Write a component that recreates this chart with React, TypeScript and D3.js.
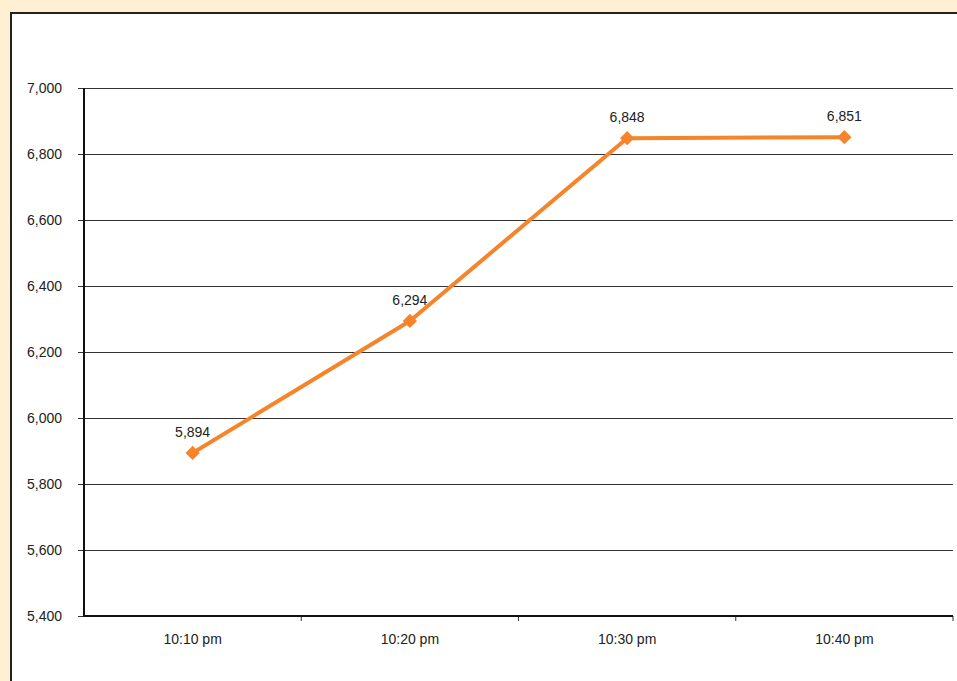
import * as d3 from "d3";
import { useEffect, useRef } from "react";

const CATEGORIES = ["10:10 pm", "10:20 pm", "10:30 pm", "10:40 pm"];
const VALUES = [5894, 6294, 6848, 6851];
const Y_TICKS = [5400, 5600, 5800, 6000, 6200, 6400, 6600, 6800, 7000];

const WIDTH = 957;
const HEIGHT = 681;
const LINE_COLOR = "#F5842A";

const App = () => {
  const svgRef = useRef<SVGSVGElement>(null);

  useEffect(() => {
    if (!svgRef.current) return;
    const svg = d3.select(svgRef.current);
    svg.selectAll("*").remove();

    const left = 84;
    const right = 953;
    const top = 88;
    const bottom = 616;

    svg
      .append("rect")
      .attr("width", WIDTH)
      .attr("height", HEIGHT)
      .attr("fill", "#FFF0D3");

    svg
      .append("rect")
      .attr("x", 11)
      .attr("y", 13)
      .attr("width", WIDTH + 20)
      .attr("height", HEIGHT + 20)
      .attr("fill", "#fff")
      .attr("stroke", "#222")
      .attr("stroke-width", 2);

    const y = d3.scaleLinear().domain([5400, 7000]).range([bottom, top]);
    const x = d3.scaleBand().domain(CATEGORIES).range([left, right]);

    const font = "Arial, 'Liberation Sans', sans-serif";

    // gridlines
    svg
      .append("g")
      .selectAll("line")
      .data(Y_TICKS.filter((t) => t !== 5400))
      .enter()
      .append("line")
      .attr("x1", left)
      .attr("x2", right)
      .attr("y1", (d) => y(d) + 0.5)
      .attr("y2", (d) => y(d) + 0.5)
      .attr("stroke", "#333")
      .attr("stroke-width", 1);

    // y axis
    const yAxis = svg.append("g");
    yAxis
      .selectAll("line.tick")
      .data(Y_TICKS)
      .enter()
      .append("line")
      .attr("class", "tick")
      .attr("x1", left - 6)
      .attr("x2", left)
      .attr("y1", (d) => y(d) + 0.5)
      .attr("y2", (d) => y(d) + 0.5)
      .attr("stroke", "#333");
    yAxis
      .selectAll("text")
      .data(Y_TICKS)
      .enter()
      .append("text")
      .attr("x", 62)
      .attr("y", (d) => y(d))
      .attr("dy", "0.35em")
      .attr("text-anchor", "end")
      .attr("font-family", font)
      .attr("font-size", 14)
      .attr("fill", "#222")
      .text((d) => d3.format(",")(d));
    yAxis
      .append("line")
      .attr("x1", left)
      .attr("x2", left)
      .attr("y1", top)
      .attr("y2", bottom)
      .attr("stroke", "#111")
      .attr("stroke-width", 2);

    // x axis
    const xAxis = svg.append("g");
    xAxis
      .selectAll("line")
      .data(CATEGORIES)
      .enter()
      .append("line")
      .attr("x1", (d) => (x(d) as number) + x.bandwidth())
      .attr("x2", (d) => (x(d) as number) + x.bandwidth())
      .attr("y1", bottom)
      .attr("y2", bottom + 5)
      .attr("stroke", "#333");
    xAxis
      .append("line")
      .attr("x1", left - 1)
      .attr("x2", right)
      .attr("y1", bottom)
      .attr("y2", bottom)
      .attr("stroke", "#111")
      .attr("stroke-width", 2);
    xAxis
      .selectAll("text")
      .data(CATEGORIES)
      .enter()
      .append("text")
      .attr("x", (d) => (x(d) as number) + x.bandwidth() / 2)
      .attr("y", 644)
      .attr("text-anchor", "middle")
      .attr("font-family", font)
      .attr("font-size", 14)
      .attr("fill", "#222")
      .text((d) => d);

    const points = CATEGORIES.map((c, i) => ({
      cx: (x(c) as number) + x.bandwidth() / 2,
      cy: y(VALUES[i]),
      v: VALUES[i],
    }));

    const line = d3
      .line<(typeof points)[number]>()
      .x((d) => d.cx)
      .y((d) => d.cy);

    svg
      .append("path")
      .datum(points)
      .attr("d", line)
      .attr("fill", "none")
      .attr("stroke", LINE_COLOR)
      .attr("stroke-width", 4)
      .attr("stroke-linejoin", "round");

    const diamond = d3.symbol().type(d3.symbolDiamond2).size(130);
    svg
      .append("g")
      .selectAll("path")
      .data(points)
      .enter()
      .append("path")
      .attr("transform", (d) => `translate(${d.cx},${d.cy})`)
      .attr("d", diamond)
      .attr("fill", LINE_COLOR);

    svg
      .append("g")
      .selectAll("text")
      .data(points)
      .enter()
      .append("text")
      .attr("x", (d) => d.cx)
      .attr("y", (d) => d.cy - 16)
      .attr("text-anchor", "middle")
      .attr("font-family", font)
      .attr("font-size", 14)
      .attr("fill", "#222")
      .text((d) => d3.format(",")(d.v));
  }, []);

  return (
    <svg
      ref={svgRef}
      width={WIDTH}
      height={HEIGHT}
      style={{ position: "absolute", top: 0, left: 0 }}
    />
  );
};

export default App;
